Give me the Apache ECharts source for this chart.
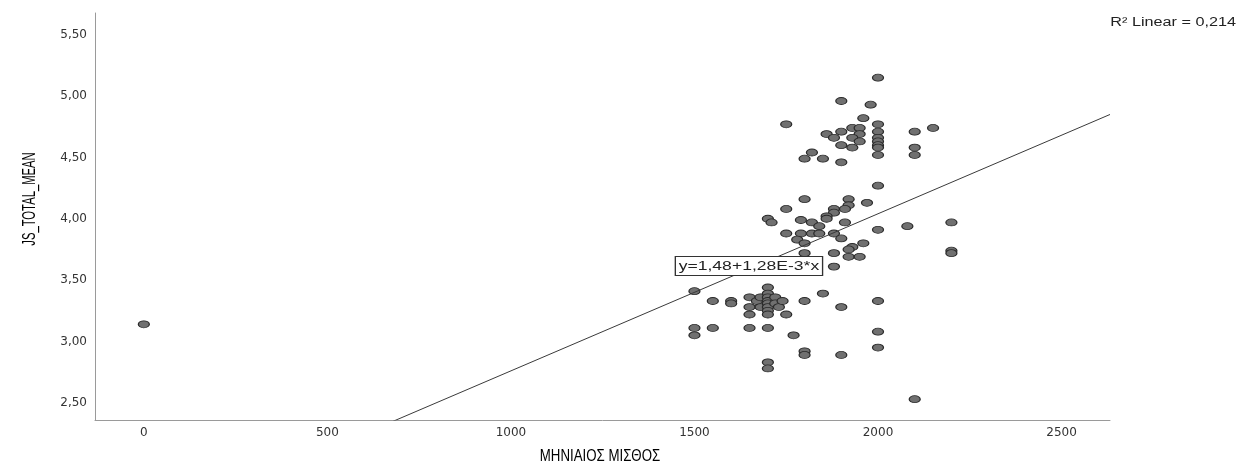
<!DOCTYPE html>
<html>
<head>
<meta charset="utf-8">
<script src="https://cdn.jsdelivr.net/npm/echarts@6/dist/echarts.min.js"></script>
<style>
html,body{margin:0;padding:0;background:#fff;}
#chart{width:1239px;height:466px;}
</style>
</head>
<body>
<div id="chart"></div>
<script>
// ---- data ----
const salary = [
  2000,1900,1980,1960,1750,2000,2150,1930,1950,1900,2000,2100,1860,1950,1880,1930,2000,1950,2000,1900,
  2000,1930,2000,2100,1820,2000,2100,1800,1850,1900,
  2000,1800,1920,1970,1920,1750,1880,1910,1880,1860,1860,1700,1710,1790,1820,1910,2200,1840,2080,2000,
  1750,1790,1820,1840,1880,1900,1780,1800,1960,1930,1920,1800,1880,1920,1950,2200,2200,1880,
  1500,1550,1600,1600,1650,1650,1650,1670,1680,1680,1700,1700,1700,1700,1700,1700,1700,1700,1720,1720,
  1730,1740,1750,1800,1850,1900,2000,1500,1500,1550,1650,1700,1770,2000,1800,1800,1900,2000,1700,1700,
  2100,0
];
const jsMean = [
  5.15,4.96,4.93,4.82,4.77,4.77,4.74,4.74,4.74,4.71,4.71,4.71,4.69,4.69,4.66,4.66,4.66,4.63,4.63,4.60,
  4.60,4.58,4.58,4.58,4.54,4.52,4.52,4.49,4.49,4.46,
  4.27,4.16,4.16,4.13,4.11,4.08,4.08,4.08,4.05,4.02,4.00,4.00,3.97,3.99,3.97,3.97,3.97,3.94,3.94,3.91,
  3.88,3.88,3.88,3.88,3.88,3.84,3.83,3.80,3.80,3.77,3.75,3.72,3.72,3.69,3.69,3.74,3.72,3.61,
  3.41,3.33,3.33,3.31,3.36,3.28,3.22,3.33,3.36,3.28,3.44,3.39,3.36,3.33,3.31,3.28,3.25,3.22,3.36,3.31,
  3.28,3.33,3.22,3.33,3.39,3.28,3.33,3.11,3.05,3.11,3.11,3.11,3.05,3.08,2.92,2.89,2.89,2.95,2.83,2.78,
  2.53,3.14
];
const xTicks = [0, 500, 1000, 1500, 2000, 2500];
const yTicks = [2.5, 3.0, 3.5, 4.0, 4.5, 5.0, 5.5];
// fit line: y = 1.48 + 1.28E-3 * x, end points across the x range
const fitX = [0, 2632];
const fitY = [1.48, 4.85];
const xTitle = 'ΜΗΝΙΑΙΟΣ ΜΙΣΘΟΣ';
const yTitle = 'JS_TOTAL_MEAN';
const eqText = 'y=1,48+1,28E-3*x';
const r2Text = 'R² Linear = 0,214';

// ---- chart ----
const chart = echarts.init(document.getElementById('chart'), null, {renderer: 'canvas'});
const points = salary.map((s, i) => [s, jsMean[i]]);
const fitLine = fitX.map((x, i) => [x, fitY[i]]);
const SX = 1.35;

chart.setOption({
  animation: false,
  backgroundColor: '#ffffff',
  grid: {left: 95, right: 129, top: 13, bottom: 46, containLabel: false},
  xAxis: {
    type: 'value', min: -133, max: 2632,
    axisLine: {show: true, onZero: false, lineStyle: {color: '#9a9a9a', width: 1}},
    axisTick: {show: false},
    splitLine: {show: false},
    axisLabel: {
      customValues: xTicks, margin: 7,
      fontFamily: 'DejaVu Sans', fontSize: 12, color: '#333',
      formatter: v => String(Math.round(v))
    }
  },
  yAxis: {
    type: 'value', min: 2.36, max: 5.677,
    axisLine: {show: true, onZero: false, lineStyle: {color: '#9a9a9a', width: 1}},
    axisTick: {show: false},
    splitLine: {show: false},
    axisLabel: {
      customValues: yTicks, margin: 8,
      fontFamily: 'DejaVu Sans', fontSize: 12, color: '#333',
      formatter: v => v.toFixed(2).replace('.', ',')
    }
  },
  series: [
    {
      type: 'scatter', data: points, symbol: 'circle', symbolSize: [11, 7],
      itemStyle: {color: '#707070', borderColor: '#2a2a2a', borderWidth: 1, opacity: 1},
      z: 2
    },
    {
      type: 'line', data: fitLine, showSymbol: false, symbol: 'none', clip: true,
      lineStyle: {color: '#3a3a3a', width: 1}, silent: true, z: 3
    }
  ],
  graphic: [
    {
      type: 'text', x: 30, y: 199, rotation: Math.PI / 2, scaleX: 0.75, scaleY: 1.2, z: 10,
      style: {text: yTitle, fontFamily: 'Liberation Sans', fontSize: 15, fill: '#000',
        align: 'center', verticalAlign: 'middle', textAlign: 'center', textVerticalAlign: 'middle'}
    },
    {
      type: 'text', x: 600, y: 456, scaleX: 0.78, z: 10,
      style: {text: xTitle, fontFamily: 'Liberation Sans', fontSize: 17, fill: '#000',
        align: 'center', verticalAlign: 'middle', textAlign: 'center', textVerticalAlign: 'middle'}
    },
    {
      type: 'text', x: 1236, y: 23, scaleX: SX, z: 10,
      style: {text: r2Text, fontFamily: 'Liberation Sans', fontSize: 12, fill: '#222',
        align: 'right', verticalAlign: 'middle', textAlign: 'right', textVerticalAlign: 'middle'}
    },
    {
      type: 'text', x: 676, y: 266, scaleX: SX, z: 10,
      style: {text: eqText, fontFamily: 'Liberation Sans', fontSize: 13, fill: '#222',
        align: 'left', verticalAlign: 'middle', textAlign: 'left', textVerticalAlign: 'middle',
        backgroundColor: '#ffffff', borderColor: '#333', borderWidth: 1, padding: [3, 2, 2, 2]}
    }
  ]
});
</script>
</body>
</html>
